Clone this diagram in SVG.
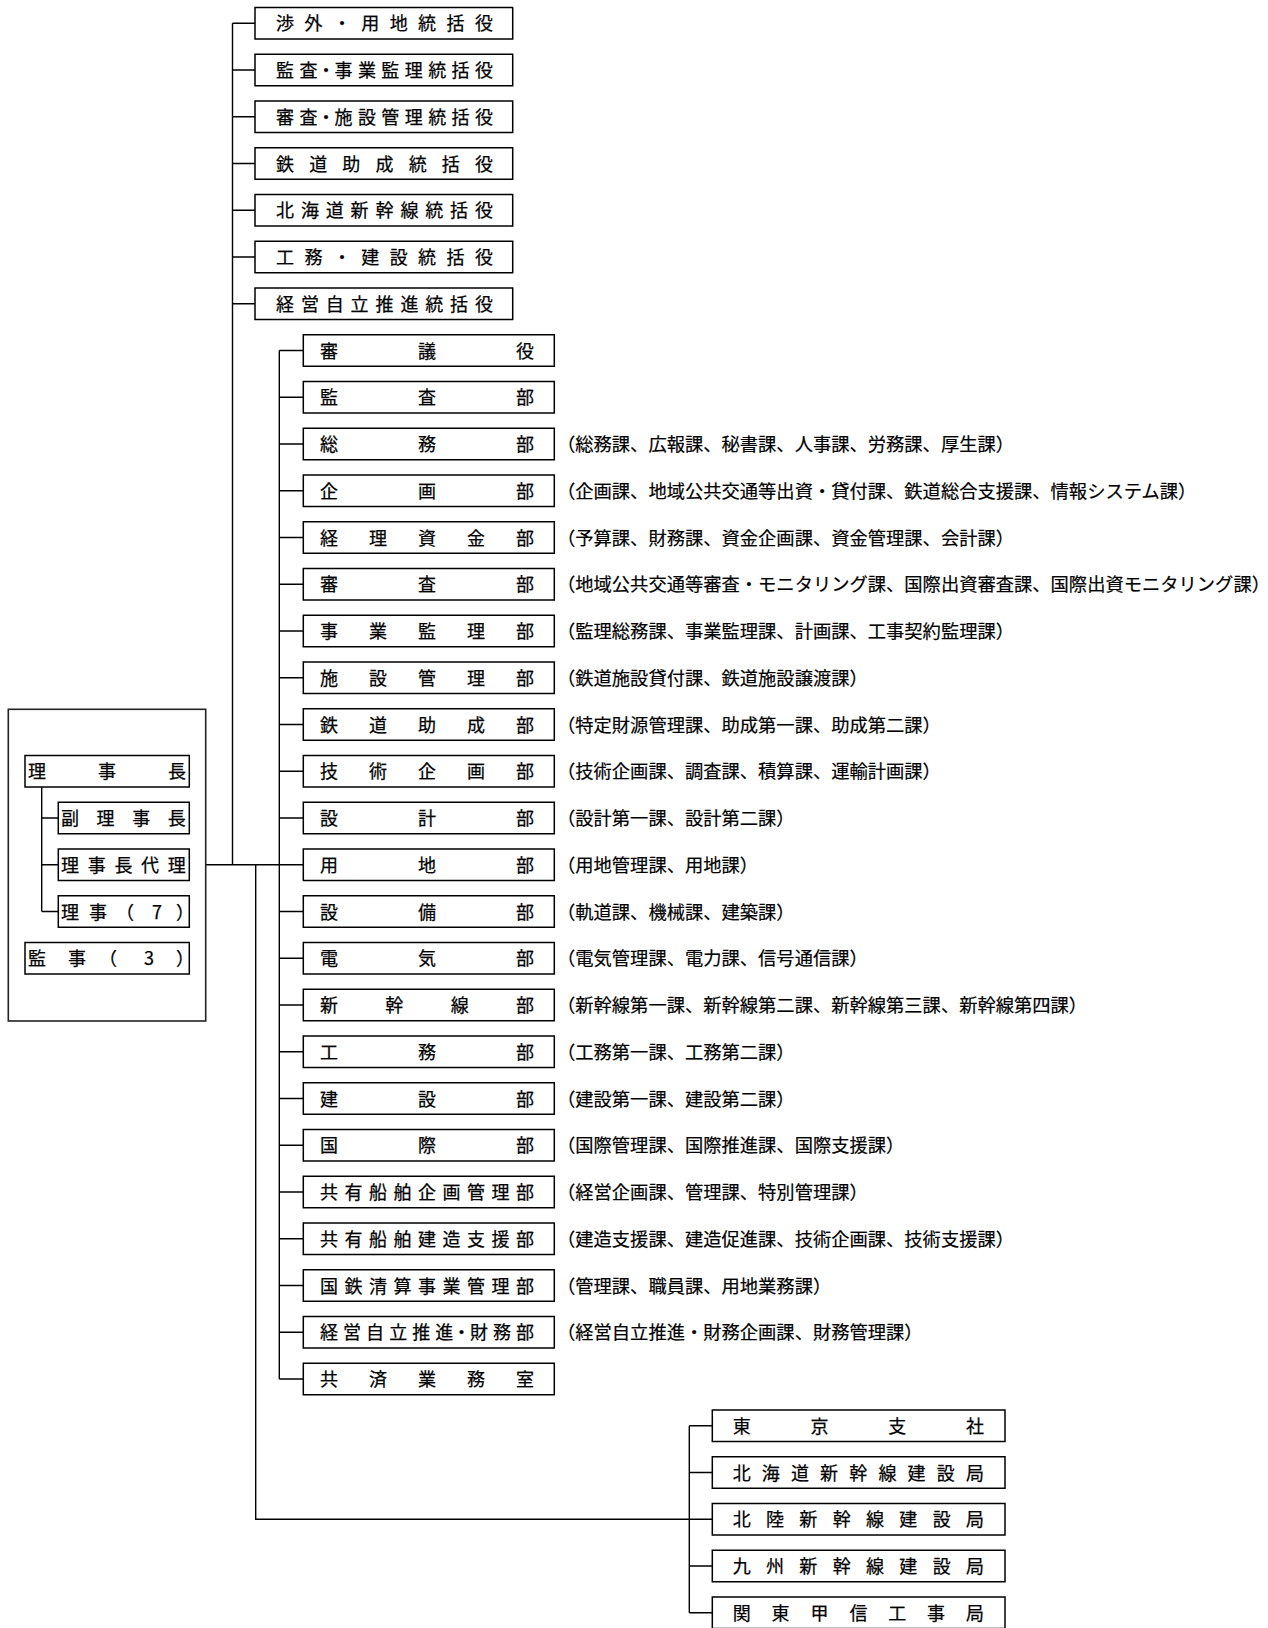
<svg xmlns="http://www.w3.org/2000/svg" width="1268" height="1628" viewBox="0 0 1268 1628">
<style>
.bg{fill:#fff}
.box{fill:#fff;stroke:#000;stroke-width:1.5}
.outer{fill:#fff;stroke:#222;stroke-width:1.6}
.t{font-family:"Noto Sans CJK JP","Noto Sans CJK SC",sans-serif;font-size:18px;fill:#000;text-anchor:middle;stroke:#000;stroke-width:0.25}
.l{font-family:"Noto Sans CJK JP","Noto Sans CJK SC",sans-serif;font-size:18.3px;fill:#000;text-anchor:start;stroke:#000;stroke-width:0.2}
.c{fill:none;stroke:#000;stroke-width:1.4}
</style>
<rect class="bg" x="0" y="0" width="1268" height="1628"/>

<g id="connectors">
<path class="c" d="M232.5,23.25V864.75 M205.7,864.75H303.3 M279.3,350.5V1379 M255.7,864.75V1519.25H712.3 M689.3,1425.75V1612.75"/>
<path class="c" d="M232.5,23.25H255 M232.5,70H255 M232.5,116.75H255 M232.5,163.5H255 M232.5,210.25H255 M232.5,257H255 M232.5,303.75H255"/>
<path class="c" d="M279.3,350.5H303.3 M279.3,397.25H303.3 M279.3,444H303.3 M279.3,490.75H303.3 M279.3,537.5H303.3 M279.3,584.25H303.3 M279.3,631H303.3 M279.3,677.75H303.3 M279.3,724.5H303.3 M279.3,771.25H303.3 M279.3,818H303.3 M279.3,911.5H303.3 M279.3,958.25H303.3 M279.3,1005H303.3 M279.3,1051.75H303.3 M279.3,1098.5H303.3 M279.3,1145.25H303.3 M279.3,1192H303.3 M279.3,1238.75H303.3 M279.3,1285.5H303.3 M279.3,1332.25H303.3 M279.3,1379H303.3"/>
<path class="c" d="M689.3,1425.75H712.3 M689.3,1472.5H712.3 M689.3,1566H712.3 M689.3,1612.75H712.3"/>
</g>

<g id="executives">
<rect class="outer" x="8.3" y="709.3" width="197.4" height="311.7"/>
<path class="c" d="M41.7,787V911.5 M41.7,818H58.3 M41.7,864.75H58.3 M41.7,911.5H58.3"/>
<g id="n-rijicho" transform="translate(0,755.5)"><rect class="box" x="25" y="0" width="164.3" height="31.5"/><text class="t" x="37 107 177" y="22.75">理事長</text></g>
<g id="n-fukurijicho" transform="translate(0,802.25)"><rect class="box" x="58.3" y="0" width="131" height="31.5"/><text class="t" x="70 105.6 141.2 176.8" y="22.75">副理事長</text></g>
<g id="n-rijichodairi" transform="translate(0,849)"><rect class="box" x="58.3" y="0" width="131" height="31.5"/><text class="t" x="70 96.7 123.4 150.1 176.8" y="22.75">理事長代理</text></g>
<g id="n-riji" transform="translate(0,895.75)"><rect class="box" x="58.3" y="0" width="131" height="31.5"/><text class="t" x="70 98 125 157 185" y="22.75">理事（7）</text></g>
<g id="n-kanji" transform="translate(0,942.5)"><rect class="box" x="25" y="0" width="164.3" height="31.5"/><text class="t" x="37 77 108 149 185" y="22.75">監事（3）</text></g>
</g>

<g id="top-officers">
<g id="n-t1" transform="translate(0,7.5)"><rect class="box" x="255" y="0" width="257.7" height="31.5"/><text class="t" x="285 313.4 341.9 370.3 398.7 427.1 455.6 484" y="22.75">渉外・用地統括役</text></g>
<g id="n-t2" transform="translate(0,54.25)"><rect class="box" x="255" y="0" width="257.7" height="31.5"/><text class="t" x="285 308.4 326 343.5 366.9 390.3 413.8 437.2 460.6 484" y="22.75">監査・事業監理統括役</text></g>
<g id="n-t3" transform="translate(0,101)"><rect class="box" x="255" y="0" width="257.7" height="31.5"/><text class="t" x="285 308.4 326 343.5 366.9 390.3 413.8 437.2 460.6 484" y="22.75">審査・施設管理統括役</text></g>
<g id="n-t4" transform="translate(0,147.75)"><rect class="box" x="255" y="0" width="257.7" height="31.5"/><text class="t" x="285 318.2 351.3 384.5 417.7 450.8 484" y="22.75">鉄道助成統括役</text></g>
<g id="n-t5" transform="translate(0,194.5)"><rect class="box" x="255" y="0" width="257.7" height="31.5"/><text class="t" x="285 309.9 334.75 359.6 384.5 409.4 434.25 459.1 484" y="22.75">北海道新幹線統括役</text></g>
<g id="n-t6" transform="translate(0,241.25)"><rect class="box" x="255" y="0" width="257.7" height="31.5"/><text class="t" x="285 313.4 341.9 370.3 398.7 427.1 455.6 484" y="22.75">工務・建設統括役</text></g>
<g id="n-t7" transform="translate(0,288)"><rect class="box" x="255" y="0" width="257.7" height="31.5"/><text class="t" x="285 309.9 334.75 359.6 384.5 409.4 434.25 459.1 484" y="22.75">経営自立推進統括役</text></g>
</g>

<g id="departments">
<g id="n-d1" transform="translate(0,334.75)"><rect class="box" x="303.3" y="0" width="251" height="31.5"/><text class="t" x="329 427 525" y="22.75">審議役</text></g>
<g id="n-d2" transform="translate(0,381.5)"><rect class="box" x="303.3" y="0" width="251" height="31.5"/><text class="t" x="329 427 525" y="22.75">監査部</text></g>
<g id="n-d3" transform="translate(0,428.25)"><rect class="box" x="303.3" y="0" width="251" height="31.5"/><text class="t" x="329 427 525" y="22.75">総務部</text><text class="l" x="557" y="22.75">（総務課、広報課、秘書課、人事課、労務課、厚生課）</text></g>
<g id="n-d4" transform="translate(0,475)"><rect class="box" x="303.3" y="0" width="251" height="31.5"/><text class="t" x="329 427 525" y="22.75">企画部</text><text class="l" x="557" y="22.75">（企画課、地域公共交通等出資・貸付課、鉄道総合支援課、情報システム課）</text></g>
<g id="n-d5" transform="translate(0,521.75)"><rect class="box" x="303.3" y="0" width="251" height="31.5"/><text class="t" x="329 378 427 476 525" y="22.75">経理資金部</text><text class="l" x="557" y="22.75">（予算課、財務課、資金企画課、資金管理課、会計課）</text></g>
<g id="n-d6" transform="translate(0,568.5)"><rect class="box" x="303.3" y="0" width="251" height="31.5"/><text class="t" x="329 427 525" y="22.75">審査部</text><text class="l" x="557" y="22.75">（地域公共交通等審査・モニタリング課、国際出資審査課、国際出資モニタリング課）</text></g>
<g id="n-d7" transform="translate(0,615.25)"><rect class="box" x="303.3" y="0" width="251" height="31.5"/><text class="t" x="329 378 427 476 525" y="22.75">事業監理部</text><text class="l" x="557" y="22.75">（監理総務課、事業監理課、計画課、工事契約監理課）</text></g>
<g id="n-d8" transform="translate(0,662)"><rect class="box" x="303.3" y="0" width="251" height="31.5"/><text class="t" x="329 378 427 476 525" y="22.75">施設管理部</text><text class="l" x="557" y="22.75">（鉄道施設貸付課、鉄道施設譲渡課）</text></g>
<g id="n-d9" transform="translate(0,708.75)"><rect class="box" x="303.3" y="0" width="251" height="31.5"/><text class="t" x="329 378 427 476 525" y="22.75">鉄道助成部</text><text class="l" x="557" y="22.75">（特定財源管理課、助成第一課、助成第二課）</text></g>
<g id="n-d10" transform="translate(0,755.5)"><rect class="box" x="303.3" y="0" width="251" height="31.5"/><text class="t" x="329 378 427 476 525" y="22.75">技術企画部</text><text class="l" x="557" y="22.75">（技術企画課、調査課、積算課、運輸計画課）</text></g>
<g id="n-d11" transform="translate(0,802.25)"><rect class="box" x="303.3" y="0" width="251" height="31.5"/><text class="t" x="329 427 525" y="22.75">設計部</text><text class="l" x="557" y="22.75">（設計第一課、設計第二課）</text></g>
<g id="n-d12" transform="translate(0,849)"><rect class="box" x="303.3" y="0" width="251" height="31.5"/><text class="t" x="329 427 525" y="22.75">用地部</text><text class="l" x="557" y="22.75">（用地管理課、用地課）</text></g>
<g id="n-d13" transform="translate(0,895.75)"><rect class="box" x="303.3" y="0" width="251" height="31.5"/><text class="t" x="329 427 525" y="22.75">設備部</text><text class="l" x="557" y="22.75">（軌道課、機械課、建築課）</text></g>
<g id="n-d14" transform="translate(0,942.5)"><rect class="box" x="303.3" y="0" width="251" height="31.5"/><text class="t" x="329 427 525" y="22.75">電気部</text><text class="l" x="557" y="22.75">（電気管理課、電力課、信号通信課）</text></g>
<g id="n-d15" transform="translate(0,989.25)"><rect class="box" x="303.3" y="0" width="251" height="31.5"/><text class="t" x="329 394.3 459.7 525" y="22.75">新幹線部</text><text class="l" x="557" y="22.75">（新幹線第一課、新幹線第二課、新幹線第三課、新幹線第四課）</text></g>
<g id="n-d16" transform="translate(0,1036)"><rect class="box" x="303.3" y="0" width="251" height="31.5"/><text class="t" x="329 427 525" y="22.75">工務部</text><text class="l" x="557" y="22.75">（工務第一課、工務第二課）</text></g>
<g id="n-d17" transform="translate(0,1082.75)"><rect class="box" x="303.3" y="0" width="251" height="31.5"/><text class="t" x="329 427 525" y="22.75">建設部</text><text class="l" x="557" y="22.75">（建設第一課、建設第二課）</text></g>
<g id="n-d18" transform="translate(0,1129.5)"><rect class="box" x="303.3" y="0" width="251" height="31.5"/><text class="t" x="329 427 525" y="22.75">国際部</text><text class="l" x="557" y="22.75">（国際管理課、国際推進課、国際支援課）</text></g>
<g id="n-d19" transform="translate(0,1176.25)"><rect class="box" x="303.3" y="0" width="251" height="31.5"/><text class="t" x="329 353.5 378 402.5 427 451.5 476 500.5 525" y="22.75">共有船舶企画管理部</text><text class="l" x="557" y="22.75">（経営企画課、管理課、特別管理課）</text></g>
<g id="n-d20" transform="translate(0,1223)"><rect class="box" x="303.3" y="0" width="251" height="31.5"/><text class="t" x="329 353.5 378 402.5 427 451.5 476 500.5 525" y="22.75">共有船舶建造支援部</text><text class="l" x="557" y="22.75">（建造支援課、建造促進課、技術企画課、技術支援課）</text></g>
<g id="n-d21" transform="translate(0,1269.75)"><rect class="box" x="303.3" y="0" width="251" height="31.5"/><text class="t" x="329 353.5 378 402.5 427 451.5 476 500.5 525" y="22.75">国鉄清算事業管理部</text><text class="l" x="557" y="22.75">（管理課、職員課、用地業務課）</text></g>
<g id="n-d22" transform="translate(0,1316.5)"><rect class="box" x="303.3" y="0" width="251" height="31.5"/><text class="t" x="329 352.1 375.1 398.2 421.2 444.3 461.6 478.9 501.9 525" y="22.75">経営自立推進・財務部</text><text class="l" x="557" y="22.75">（経営自立推進・財務企画課、財務管理課）</text></g>
<g id="n-d23" transform="translate(0,1363.25)"><rect class="box" x="303.3" y="0" width="251" height="31.5"/><text class="t" x="329 378 427 476 525" y="22.75">共済業務室</text></g>
</g>

<g id="branches">
<g id="n-b1" transform="translate(0,1410)"><rect class="box" x="712.3" y="0" width="292.7" height="31.5"/><text class="t" x="741.7 819.5 897.2 975" y="22.75">東京支社</text></g>
<g id="n-b2" transform="translate(0,1456.75)"><rect class="box" x="712.3" y="0" width="292.7" height="31.5"/><text class="t" x="741.7 770.8 800 829.1 858.3 887.5 916.6 945.8 975" y="22.75">北海道新幹線建設局</text></g>
<g id="n-b3" transform="translate(0,1503.5)"><rect class="box" x="712.3" y="0" width="292.7" height="31.5"/><text class="t" x="741.7 775 808.3 841.7 875 908.3 941.7 975" y="22.75">北陸新幹線建設局</text></g>
<g id="n-b4" transform="translate(0,1550.25)"><rect class="box" x="712.3" y="0" width="292.7" height="31.5"/><text class="t" x="741.7 775 808.3 841.7 875 908.3 941.7 975" y="22.75">九州新幹線建設局</text></g>
<g id="n-b5" transform="translate(0,1597)"><rect class="box" x="712.3" y="0" width="292.7" height="31.5"/><text class="t" x="741.7 780.6 819.5 858.4 897.2 936.1 975" y="22.75">関東甲信工事局</text></g>
</g>
</svg>
